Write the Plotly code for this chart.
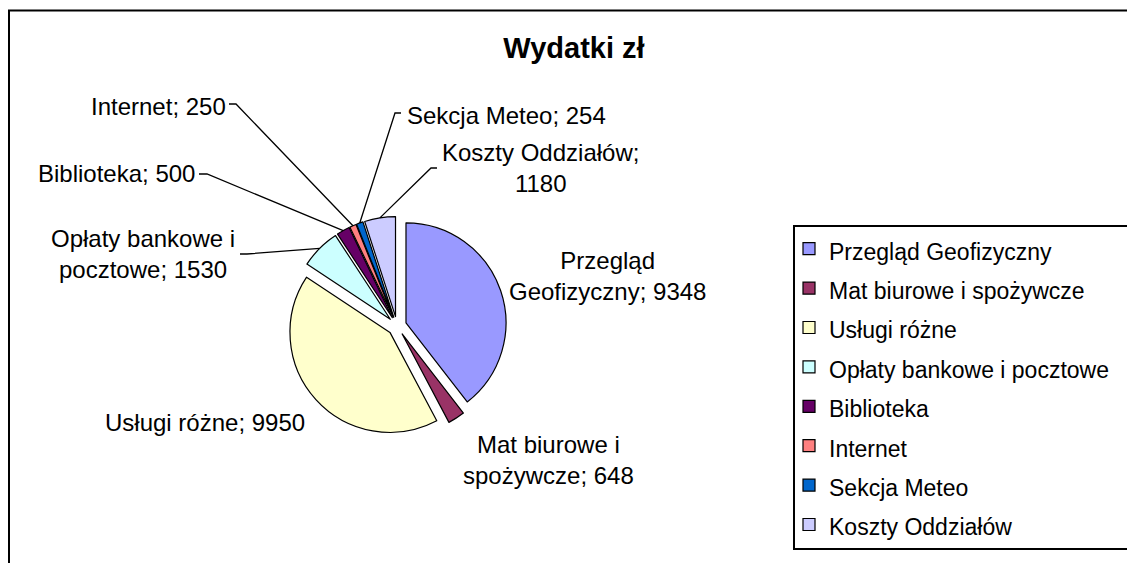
import math
import plotly.graph_objects as go

# ---------------- data ----------------
title_text = "Wydatki zł"
categories = ["Przegląd Geofizyczny", "Mat biurowe i spożywcze", "Usługi różne",
              "Opłaty bankowe i pocztowe", "Biblioteka", "Internet",
              "Sekcja Meteo", "Koszty Oddziałów"]
values = [9348, 648, 9950, 1530, 500, 250, 254, 1180]
colors = ["#9999FF", "#993366", "#FFFFCC", "#CCFFFF",
          "#660066", "#FF8080", "#0066CC", "#CCCCFF"]

# ---------------- layout constants (window pixels) ----------------
W, H = 1127, 563
CX, CY = 397, 326           # pie centre
R = 100                     # pie radius
PULL = 0.095                # explode fraction
FONT = "Liberation Sans, Arial, sans-serif"
LABEL_SIZE = 24
LEGEND_TEXT = 23
LEG_BOX = (794, 226, 549)   # legend frame: left, top, bottom


def px(x):
    return x / W


def py(y):
    return 1 - y / H


half = R * (1 + PULL)

# data-label placement: word index after which the label wraps, centre, leader start/elbow
label_breaks = [1, 3, None, 3, None, None, None, 2]
label_pos = [(607, 276), (548, 460), (204.5, 422), (143, 254),
             (116, 173), (158.5, 106), (506, 115), (540, 167.5)]
leader_pts = [None, None, None,
              ((240, 254), (247, 254)),
              ((199, 174), (207, 174)),
              ((229, 104), (236, 104)),
              ((401, 113), (395, 113)),
              ((437, 168), (431, 168))]

fig = go.Figure()
fig.add_trace(go.Pie(
    labels=['<span style="font-size:%dpx">%s</span>' % (LEGEND_TEXT, c) for c in categories],
    values=values,
    sort=False,
    direction="clockwise",
    rotation=0,
    pull=[PULL] * len(values),
    marker=dict(colors=colors, line=dict(color="black", width=1.2)),
    textinfo="none",
    hoverinfo="label+value+percent",
    domain=dict(x=[px(CX - half), px(CX + half)], y=[py(CY + half), py(CY - half)]),
))

# data labels and leader lines
total = sum(values)
cum = 0
annotations = []
shapes = []
for i, (cat, val) in enumerate(zip(categories, values)):
    mid = (cum + val / 2) / total * 2 * math.pi
    cum += val
    words = f"{cat}; {val}".split(" ")
    b = label_breaks[i]
    text = " ".join(words) if b is None else " ".join(words[:b]) + "<br>" + " ".join(words[b:])
    lx, ly = label_pos[i]
    annotations.append(dict(
        text=text, x=px(lx), y=py(ly), xref="paper", yref="paper",
        xanchor="center", yanchor="middle", align="center", showarrow=False,
        font=dict(family=FONT, size=LABEL_SIZE, color="black"),
    ))
    if leader_pts[i] is not None:
        dx, dy = math.sin(mid), -math.cos(mid)
        ex = CX + (R * PULL + R) * dx
        ey = CY + (R * PULL + R) * dy
        (sx, sy), (kx, ky) = leader_pts[i]
        path = "M %f,%f L %f,%f L %f,%f" % (px(sx), py(sy), px(kx), py(ky), px(ex), py(ey))
        shapes.append(dict(type="path", path=path, xref="paper", yref="paper",
                           line=dict(color="black", width=1.3)))

# chart-area border: left and top edges only (the rest lies outside the window)
shapes.append(dict(type="path", xref="paper", yref="paper",
                   path="M %f,%f L %f,%f L %f,%f" % (px(9), -0.05, px(9), py(10.5), 1.05, py(10.5)),
                   line=dict(color="black", width=2), layer="below"))

# legend frame: its right edge lies beyond the window, as in the original
lb_l, lb_t, lb_b = LEG_BOX
shapes.append(dict(type="path", xref="paper", yref="paper",
                   path="M %f,%f L %f,%f L %f,%f L %f,%f" % (
                       1.05, py(lb_t), px(lb_l), py(lb_t), px(lb_l), py(lb_b), 1.05, py(lb_b)),
                   line=dict(color="black", width=2), layer="below"))

fig.update_layout(
    width=W, height=H,
    margin=dict(l=0, r=0, t=0, b=0, autoexpand=False),
    paper_bgcolor="white", plot_bgcolor="white",
    title=dict(text="<b>%s</b>" % title_text, x=px(574), y=py(48),
               xref="paper", yref="paper", xanchor="center", yanchor="middle",
               font=dict(family=FONT, size=29, color="black")),
    showlegend=True,
    legend=dict(x=px(789), y=py(224), xanchor="left", yanchor="top",
                borderwidth=0, bgcolor="rgba(0,0,0,0)",
                font=dict(family=FONT, size=28, color="black"),
                traceorder="normal"),
    annotations=annotations,
    shapes=shapes,
)

fig.write_html("out.html", config={"displayModeBar": False},
               post_script="document.body.style.margin='0';document.body.style.overflow='hidden';")
